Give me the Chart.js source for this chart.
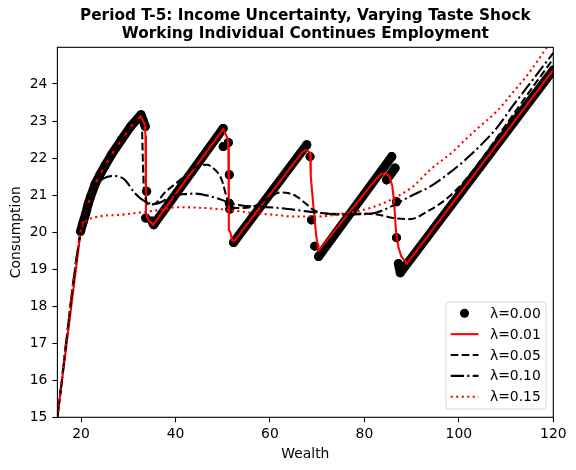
<!DOCTYPE html>
<html>
<head>
<meta charset="utf-8">
<script src="https://cdn.jsdelivr.net/npm/chart.js@4.4.1/dist/chart.umd.min.js"></script>
<style>
  html, body { margin: 0; padding: 0; background: #fff; }
</style>
</head>
<body>
<canvas id="chart" width="576" height="470"></canvas>
<script>
// ----- DATA -----
const titleLines = ["Period T-5: Income Uncertainty, Varying Taste Shock", "Working Individual Continues Employment"];
const labels = ["λ=0.00", "λ=0.01", "λ=0.05", "λ=0.10", "λ=0.15"];
const xTicks = [20, 40, 60, 80, 100, 120];
const yTicks = [15, 16, 17, 18, 19, 20, 21, 22, 23, 24];

// λ=0.00 (markers); null breaks the stroke between clusters
const wealth000 = [19.9, 20.4, 21.0, 21.5, 22.0, 23.0, 24.0, 25.1, 26.5, 28.6, 30.5, 32.7, 33.2, 33.6, 33.6,
  33.9, 33.9, 33.7, 33.7,
  35.0, 35.4, 50.1, 50.1, 50.1, 50.1, 51.2, 51.2, 51.4, 51.4, 51.4, 51.4, 51.5, 51.5,
  52.3, 67.8, 67.8, 68.5, 68.5, 68.8, 68.8, 69.5, 69.5,
  70.3, 85.8, 85.8, 84.7, 86.5, 86.5, 86.8, 86.8, 86.8, 86.8,
  87.2, 87.6, 120];
const cons000 = [20.02, 20.25, 20.5, 20.75, 20.95, 21.3, 21.55, 21.8, 22.1, 22.5, 22.85, 23.17, 23.0, 22.85, null,
  21.1, null, 20.38, null,
  20.3, 20.2, 22.8, null, 22.31, null, 22.42, null, 21.55, null, 20.78, null, 20.62, null,
  19.72, 22.36, null, 22.04, null, 20.33, null, 19.62, null,
  19.34, 22.04, null, 21.41, 21.73, null, 20.82, null, 19.85, null,
  19.15, 18.9, 24.38];

const wealth001 = [15, 19.9, 20.4, 21.0, 21.5, 22.0, 23.0, 24.0, 25.1, 26.5, 28.6, 30.5, 32.6, 33.5, 33.65, 33.75, 34.4, 35.3,
  50.1, 51.0, 51.2, 51.3, 51.6, 52.0, 52.4, 66.8, 67.6, 68.5, 68.65, 69.2, 69.8, 70.3,
  82.6, 83.5, 84.4, 85.3, 85.9, 86.3, 86.7, 87.2, 87.8, 89.0, 120];
const cons001 = [15, 20.0, 20.25, 20.5, 20.75, 20.95, 21.3, 21.55, 21.8, 22.1, 22.5, 22.85, 23.12, 22.92, 22.6, 20.5, 20.3, 20.2,
  22.78, 22.55, 22.3, 20.05, 20.0, 19.78, 19.75, 22.15, 22.22, 22.15, 21.5, 20.7, 19.9, 19.5,
  21.45, 21.56, 21.6, 21.5, 21.25, 20.8, 20.0, 19.6, 19.35, 19.15, 24.38];

const wealth005 = [15, 19.9, 21.0, 22.0, 23.0, 25.1, 28.6, 30.5, 32.5, 32.9, 33.1, 33.3, 33.7, 34.3, 35.2, 38.0, 41.0, 43.0, 44.5,
  46.6, 48.4, 49.8, 50.8, 51.4, 53.0, 56.5, 59.5, 62.1, 64.0, 65.7, 67.5, 69.2, 72.0, 76.0, 80.0, 83.0, 86.1, 89.6,
  93.9, 97.4, 101.0, 105.0, 110, 115, 120];
const cons005 = [15, 20.0, 20.5, 20.95, 21.3, 21.8, 22.5, 22.85, 23.05, 22.85, 21.9, 21.2, 20.9, 20.75, 20.75, 21.1, 21.41, 21.65, 21.77,
  21.82, 21.68, 21.41, 20.96, 20.74, 20.65, 20.69, 20.9, 21.07, 21.05, 20.96, 20.78, 20.6, 20.5, 20.49, 20.5, 20.47, 20.38, 20.35,
  20.6, 20.9, 21.35, 22.0, 22.9, 23.8, 24.68];

const wealth010 = [15, 19.9, 21.0, 22.0, 22.8, 24.4, 26.8, 28.0, 29.3, 31.4, 33.5, 35.7, 39.2, 41.5, 44.1, 47.0, 49.8, 51.5,
  54.0, 56.8, 62.1, 67.8, 72.0, 75.5, 79.1, 82.6, 86.1, 89.6, 93.9, 97.5, 101.0, 104.5, 108.0, 111.5, 115.1, 120];
const cons010 = [15, 20.0, 20.5, 20.95, 21.2, 21.42, 21.52, 21.5, 21.41, 21.05, 20.83, 20.76, 20.96, 21.02, 21.04, 20.98, 20.87, 20.78,
  20.72, 20.69, 20.65, 20.56, 20.5, 20.47, 20.48, 20.53, 20.72, 20.96, 21.23, 21.55, 21.91, 22.33, 22.81, 23.42, 24.02, 24.84];

const wealth015 = [15, 19.9, 20.5, 21.5, 23.7, 28.6, 32.5, 35.7, 40.6, 46.4, 53.7, 56.8, 60.7, 65.0, 69.9, 75.5, 79.1, 81.9,
  84.7, 87.5, 90.3, 93.9, 98.8, 101.0, 104.4, 108.0, 111.5, 115.1, 118.3, 120];
const cons015 = [15, 20.0, 20.2, 20.33, 20.42, 20.47, 20.53, 20.58, 20.67, 20.65, 20.56, 20.51, 20.47, 20.42, 20.42, 20.5, 20.58, 20.68,
  20.82, 21.0, 21.23, 21.68, 22.18, 22.45, 22.85, 23.26, 23.78, 24.34, 24.93, 25.25];

const toPoints = (xs, ys) => xs.map((x, i) => ({ x: x, y: ys[i] }));

Chart.defaults.font.family = "'DejaVu Sans', sans-serif";
Chart.defaults.font.size = 13.9;
Chart.defaults.color = "#000";

// title, frame and a matplotlib-style legend inside the axes
const frameLegend = {
  id: "frameLegend",
  afterDatasetsDraw(chart) {
    const { ctx, chartArea: a } = chart;
    ctx.save();
    ctx.strokeStyle = "#000";
    ctx.lineWidth = 1.1;
    ctx.strokeRect(a.left, a.top, a.right - a.left, a.bottom - a.top);

    // title centred over the axes
    ctx.fillStyle = "#000";
    ctx.font = "bold 15.3px 'DejaVu Sans'";
    ctx.textAlign = "center";
    ctx.textBaseline = "middle";
    const cx = (a.left + a.right) / 2;
    titleLines.forEach((t, i) => ctx.fillText(t, cx, 16.5 + i * 17.6));

    // legend box
    const bx = 446, by = 302, bw = 100, bh = 107;
    ctx.beginPath();
    ctx.roundRect(bx, by, bw, bh, 3);
    ctx.fillStyle = "rgba(255,255,255,0.8)";
    ctx.fill();
    ctx.strokeStyle = "rgba(204,204,204,0.8)";
    ctx.lineWidth = 1;
    ctx.stroke();

    ctx.font = "13.9px 'DejaVu Sans'";
    ctx.textAlign = "left";
    chart.data.datasets.forEach((ds, i) => {
      const y = 313.3 + i * 20.85;
      if (ds.isMarker) {
        ctx.beginPath();
        ctx.arc(464.5, y, 4.5, 0, Math.PI * 2);
        ctx.fillStyle = "#000";
        ctx.fill();
      } else {
        ctx.beginPath();
        ctx.setLineDash(ds.borderDash || []);
        ctx.lineCap = "butt";
        ctx.strokeStyle = ds.borderColor;
        ctx.lineWidth = ds.borderWidth;
        ctx.moveTo(450.7, y);
        ctx.lineTo(478.5, y);
        ctx.stroke();
        ctx.setLineDash([]);
      }
      ctx.fillStyle = "#000";
      ctx.fillText(ds.label, 490, y + 1);
    });
    ctx.restore();
  }
};

const lineStyle = (color, dash, order) => ({
  borderColor: color,
  borderWidth: 2.08,
  borderDash: dash,
  borderCapStyle: "butt",
  pointRadius: 0,
  fill: false,
  order: order
});

new Chart(document.getElementById("chart"), {
  type: "line",
  data: {
    datasets: [
      {
        label: labels[0],
        isMarker: true,
        data: toPoints(wealth000, cons000),
        borderColor: "#000",
        borderWidth: 9,
        borderCapStyle: "round",
        borderJoinStyle: "round",
        pointRadius: 4.5,
        pointBackgroundColor: "#000",
        pointBorderWidth: 0,
        spanGaps: false,
        tension: 0,
        order: 5
      },
      Object.assign({ label: labels[1], data: toPoints(wealth001, cons001), tension: 0 }, lineStyle("#ff0000", [], 4)),
      Object.assign({ label: labels[2], data: toPoints(wealth005, cons005), cubicInterpolationMode: "monotone" }, lineStyle("#000", [7.7, 3.3], 3)),
      Object.assign({ label: labels[3], data: toPoints(wealth010, cons010), cubicInterpolationMode: "monotone" }, lineStyle("#000", [13.3, 3.3, 2.1, 3.3], 2)),
      Object.assign({ label: labels[4], data: toPoints(wealth015, cons015), cubicInterpolationMode: "monotone" }, lineStyle("#ff0000", [2.1, 3.4], 1))
    ]
  },
  options: {
    responsive: false,
    animation: false,
    events: [],
    devicePixelRatio: 1,
    layout: { padding: { left: 0, right: 22.7, top: 47.3, bottom: 0 } },
    plugins: {
      legend: { display: false },
      tooltip: { enabled: false },
      title: { display: false }
    },
    scales: {
      x: {
        type: "linear",
        min: 15,
        max: 120,
        afterBuildTicks: (s) => { s.ticks = xTicks.map((v) => ({ value: v })); },
        afterFit: (s) => { s.height = 52.7; },
        grid: { drawOnChartArea: false, drawTicks: true, tickLength: 5, tickColor: "#000", tickWidth: 1.1 },
        border: { display: false },
        ticks: { padding: 4, maxRotation: 0, color: "#000" },
        title: { display: true, text: "Wealth", font: { size: 13.9 }, padding: { top: 0, bottom: 7.6 }, color: "#000" }
      },
      y: {
        min: 15,
        max: 24.99,
        afterBuildTicks: (s) => { s.ticks = yTicks.map((v) => ({ value: v })); },
        afterFit: (s) => { s.width = 57.4; },
        grid: { drawOnChartArea: false, drawTicks: true, tickLength: 5, tickColor: "#000", tickWidth: 1.1 },
        border: { display: false },
        ticks: { padding: 5, color: "#000" },
        title: { display: true, text: "Consumption", font: { size: 13.9 }, padding: { top: 8.3, bottom: 0 }, color: "#000" }
      }
    }
  },
  plugins: [frameLegend]
});
</script>
</body>
</html>
